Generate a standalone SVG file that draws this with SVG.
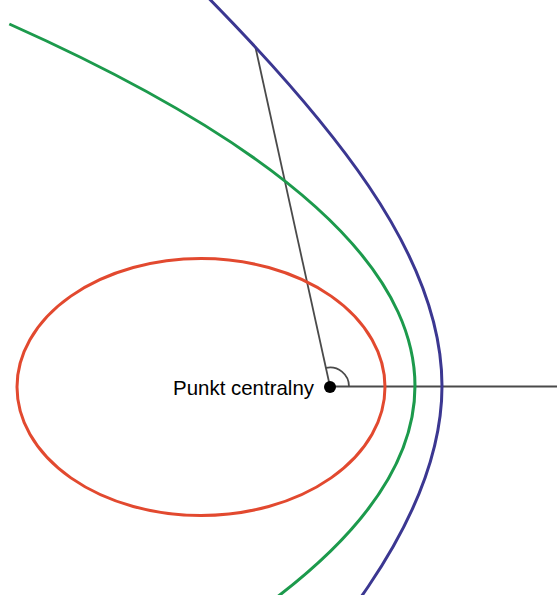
<svg xmlns="http://www.w3.org/2000/svg" width="557" height="595" viewBox="0 0 557 595">
<style>
.curve{fill:none;stroke-width:3}
.ell{stroke:#e2492f}
.par{stroke:#1c9a4c}
.hyp{stroke:#3b3791}
.ln{fill:none;stroke:#4a4a4a;stroke-width:1.8}
.lbl{font-family:"Liberation Sans",Arial,sans-serif;font-size:21px;fill:#000}
</style>
<rect width="557" height="595" fill="#fff"/>
<g id="connectors">
<line class="ln" x1="330" y1="386.5" x2="557" y2="386.5"/>
<line class="ln" x1="330" y1="386.5" x2="255.4" y2="47"/>
<path class="ln" d="M349 386.5 A19 19 0 0 0 325.9 367.9"/>
</g>
<g id="ellipse"><ellipse class="curve ell" cx="201" cy="387" rx="184" ry="128.5"/></g>
<g id="parabola"><path class="curve par" d="M9.3 24 Q654.8 312 273.2 600"/></g>
<g id="hyperbola"><path class="curve hyp" d="M196.7 -14 C262.9 52.7 323.5 119.3 368.6 186 C413.7 252.7 442 319.3 442 386 C442 452.7 413.7 519.3 368.6 586 C359.6 599.3 349.9 612.7 339.7 626"/></g>
<g id="focus">
<circle cx="330" cy="387" r="6" fill="#000"/>
<text class="lbl" x="314" y="395" text-anchor="end" textLength="141" lengthAdjust="spacingAndGlyphs">Punkt centralny</text>
</g>
</svg>
